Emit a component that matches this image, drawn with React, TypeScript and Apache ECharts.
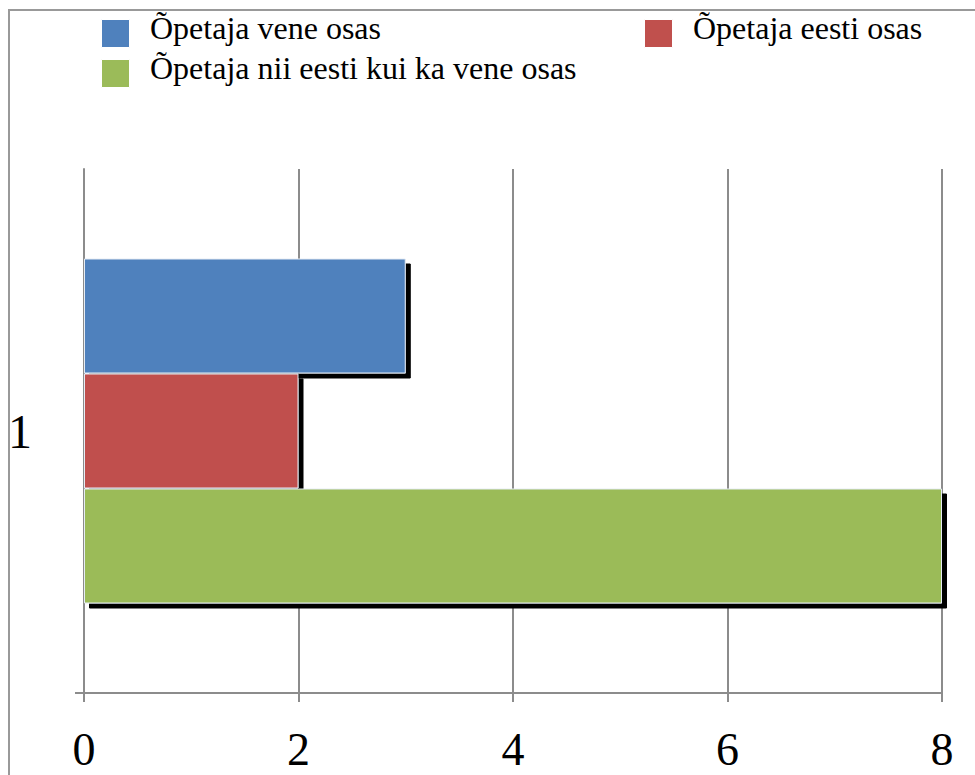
import React, { useEffect, useRef } from "react";
import * as echarts from "echarts";

const categories = ["1"];
const seriesNames = ["Õpetaja vene osas", "Õpetaja eesti osas", "Õpetaja nii eesti kui ka vene osas"];
const seriesColors = ["#4F81BD", "#C0504D", "#9BBB59"];
const seriesValues = [[3], [2], [8]];
const xTicks = [0, 2, 4, 6, 8];

export default function App() {
  const ref = useRef<HTMLDivElement>(null);
  useEffect(() => {
    if (!ref.current) return;
    const chart = echarts.init(ref.current, null, { renderer: "svg" });
    const font = "Liberation Serif";
    const legendPos = [
      { left: 96, top: 14 },
      { left: 639, top: 14 },
      { left: 96, top: 54 },
    ];
    const option: any = {
      animation: false,
      backgroundColor: "#fff",
      textStyle: { fontFamily: font },
      graphic: [
        {
          type: "rect",
          shape: { x: 9, y: 10, width: 1100, height: 900 },
          style: { fill: "none", stroke: "#999", lineWidth: 2 },
          silent: true,
        },
        {
          type: "line",
          shape: { x1: 75, y1: 693, x2: 84, y2: 693 },
          style: { stroke: "#8c8c8c", lineWidth: 2 },
          silent: true,
        },
        ...legendPos.map((p, i) => ({
          type: "text",
          x: p.left + 54,
          y: p.top + 14,
          silent: true,
          style: {
            text: seriesNames[i],
            fontFamily: font,
            fontSize: 32,
            fill: "#000",
            textVerticalAlign: "middle",
            verticalAlign: "middle",
            align: "left",
          },
        })),
      ],
      legend: legendPos.map((p, i) => ({
        left: p.left,
        top: p.top,
        data: [seriesNames[i]],
        itemWidth: 28,
        itemHeight: 28,
        icon: "rect",
        itemStyle: { borderColor: "#fff", borderWidth: 1 },
        formatter: () => "",
        selectedMode: false,
      })),
      grid: { left: 84, right: 33, top: 169, bottom: 82, containLabel: false },
      xAxis: {
        type: "value",
        min: 0,
        max: 8,
        interval: 2,
        axisLine: { show: true, lineStyle: { color: "#8c8c8c", width: 2 } },
        axisTick: { show: true, length: 9, lineStyle: { color: "#8c8c8c", width: 2 } },
        splitLine: { show: true, lineStyle: { color: "#8c8c8c", width: 2 } },
        axisLabel: {
          fontFamily: font,
          fontSize: 46,
          color: "#000",
          margin: 33,
          formatter: (v: number) => (xTicks.includes(v) ? String(v) : ""),
        },
      },
      yAxis: {
        type: "category",
        data: categories,
        axisLine: { show: true, lineStyle: { color: "#8c8c8c", width: 2 } },
        axisTick: { show: false },
        axisLabel: { fontFamily: font, fontSize: 48, color: "#000", margin: 52 },
      },
      series: [0, 1, 2].map((i) => ({
        name: seriesNames[i],
        type: "bar",
        data: seriesValues[i],
        barWidth: 115,
        barGap: "0%",
        itemStyle: {
          color: seriesColors[i],
          borderColor: "#e6ecf4",
          borderWidth: 1,
          shadowColor: "#000",
          shadowOffsetX: 5,
          shadowOffsetY: 5,
          shadowBlur: 0,
        },
      })),
    };
    chart.setOption(option);
    return () => chart.dispose();
  }, []);
  return (
    <div
      ref={ref}
      style={{ position: "fixed", left: 0, top: 0, width: 975, height: 775 }}
    />
  );
}
